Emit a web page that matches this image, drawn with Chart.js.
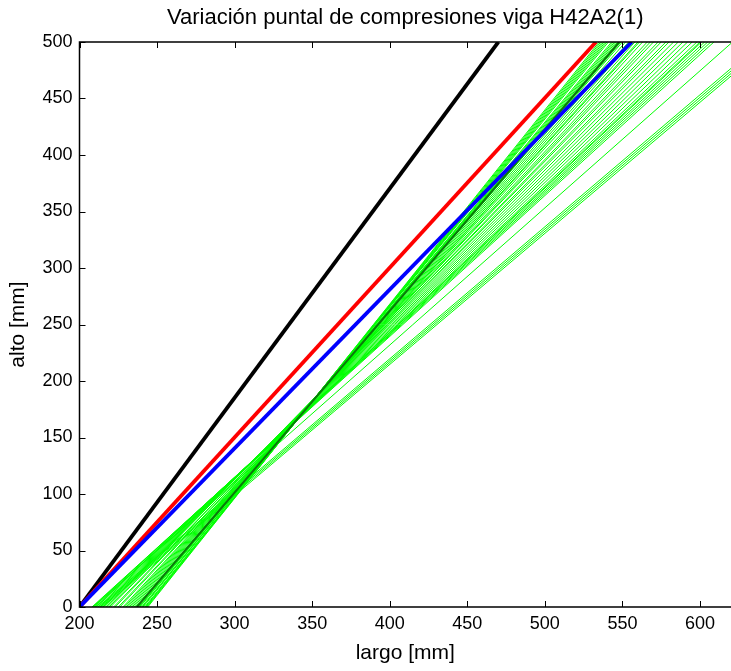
<!DOCTYPE html>
<html>
<head>
<meta charset="utf-8">
<script src="https://cdn.jsdelivr.net/npm/chart.js@4.4.1/dist/chart.umd.min.js"></script>
<style>
  html, body { margin: 0; padding: 0; background: #ffffff; }
  canvas { display: block; }
</style>
</head>
<body>
<canvas id="strut" width="731" height="671"></canvas>
<script>
// Axis ticks
const largoTicks = [200, 250, 300, 350, 400, 450, 500, 550, 600];
const altoTicks = [0, 50, 100, 150, 200, 250, 300, 350, 400, 450, 500];

// Reference struts: [largo at alto = 0, largo at alto = 500]
const strutBlack = [200, 470];
const strutRed = [200, 533];
const strutBlue = [200, 556];
const strutDarkGreen = [237, 548];

// Measured struts: largo at the base (alto = 0) and at the top (alto = 500)
const greenBase = [
  244, 243.5, 243, 242.5, 242, 241, 240.5, 240, 239, 238.5, 238, 237, 236, 235, 234, 233, 232,
  231, 230, 229, 228, 226, 225, 223, 222, 220, 219, 218, 217, 216, 215, 214, 213, 212,
  211, 210.5, 210, 209, 208.5, 208,
  209, 212, 213, 214, 215
];
const greenTop = [
  535, 536, 537, 538, 539, 540, 541, 543, 544, 545, 546, 547, 549, 550, 552, 554, 556,
  558, 560, 561, 563, 566, 568, 570, 573, 575, 578, 580, 583, 586, 589, 592, 595, 598,
  600, 601, 603, 605, 607, 609,
  621, 640, 642, 644, 646
];

const altoRange = [0, 500];

function strut(pair) {
  return [
    { x: pair[0], y: altoRange[0] },
    { x: pair[1], y: altoRange[1] }
  ];
}

const datasets = [];
datasets.push({ data: strut(strutBlue), borderColor: '#0000ff', borderWidth: 3.8 });
datasets.push({ data: strut(strutRed), borderColor: '#ff0000', borderWidth: 3.8 });
datasets.push({ data: strut(strutBlack), borderColor: '#000000', borderWidth: 3.8 });
datasets.push({ data: strut(strutDarkGreen), borderColor: '#0a7a0a', borderWidth: 2 });
greenBase.forEach((b, i) => {
  datasets.push({ data: strut([b, greenTop[i]]), borderColor: '#00ff00', borderWidth: 1 });
});
datasets.forEach(d => {
  d.showLine = true;
  d.pointRadius = 0;
  d.fill = false;
  d.tension = 0;
});

// Axes frame (top, left, bottom) with inward tick marks
const axesFrame = {
  id: 'axesFrame',
  afterDatasetsDraw(chart) {
    const { ctx, chartArea: a, scales } = chart;
    const sx = scales.x, sy = scales.y;
    const tick = 6;
    ctx.save();
    ctx.strokeStyle = '#000000';
    ctx.lineWidth = 1.5;
    ctx.beginPath();
    ctx.moveTo(a.right + 2, a.top);
    ctx.lineTo(a.left, a.top);
    ctx.lineTo(a.left, a.bottom);
    ctx.lineTo(a.right + 2, a.bottom);
    ctx.stroke();
    ctx.lineWidth = 1;
    ctx.beginPath();
    largoTicks.forEach(v => {
      const px = Math.round(sx.getPixelForValue(v)) + 0.5;
      ctx.moveTo(px, a.bottom);
      ctx.lineTo(px, a.bottom - tick);
      ctx.moveTo(px, a.top);
      ctx.lineTo(px, a.top + tick);
    });
    altoTicks.forEach(v => {
      const py = Math.round(sy.getPixelForValue(v)) + 0.5;
      ctx.moveTo(a.left, py);
      ctx.lineTo(a.left + tick, py);
    });
    ctx.stroke();
    ctx.restore();
  }
};

Chart.defaults.font.family = '"Liberation Sans", Arial, Helvetica, sans-serif';
Chart.defaults.color = '#000000';

new Chart(document.getElementById('strut'), {
  type: 'scatter',
  data: { datasets },
  plugins: [axesFrame],
  options: {
    responsive: false,
    animation: false,
    layout: { padding: { left: 0, right: 0, top: 0, bottom: 0 } },
    plugins: {
      legend: { display: false },
      tooltip: { enabled: false },
      title: {
        display: true,
        text: 'Variación puntal de compresiones viga H42A2(1)',
        fullSize: false,
        font: { size: 22, weight: 'normal' },
        color: '#000000',
        padding: { top: 5, bottom: 10.6 }
      }
    },
    scales: {
      x: {
        type: 'linear',
        min: 200,
        max: 620,
        afterBuildTicks: s => { s.ticks = largoTicks.map(v => ({ value: v })); },
        afterFit: s => { s.height = 64; },
        grid: { display: false, drawTicks: false },
        border: { display: false },
        ticks: { font: { size: 18 }, padding: 6, maxRotation: 0, autoSkip: false },
        title: {
          display: true,
          text: 'largo [mm]',
          font: { size: 21 },
          padding: { top: 0, bottom: 5 }
        }
      },
      y: {
        type: 'linear',
        min: 0,
        max: 500,
        afterBuildTicks: s => { s.ticks = altoTicks.map(v => ({ value: v })); },
        afterFit: s => { s.width = 79.5; },
        grid: { display: false, drawTicks: false },
        border: { display: false },
        ticks: { font: { size: 18 }, padding: 7, autoSkip: false },
        title: {
          display: true,
          text: 'alto [mm]',
          font: { size: 21 },
          padding: { top: 6, bottom: 0 }
        }
      }
    }
  }
});
</script>
</body>
</html>
